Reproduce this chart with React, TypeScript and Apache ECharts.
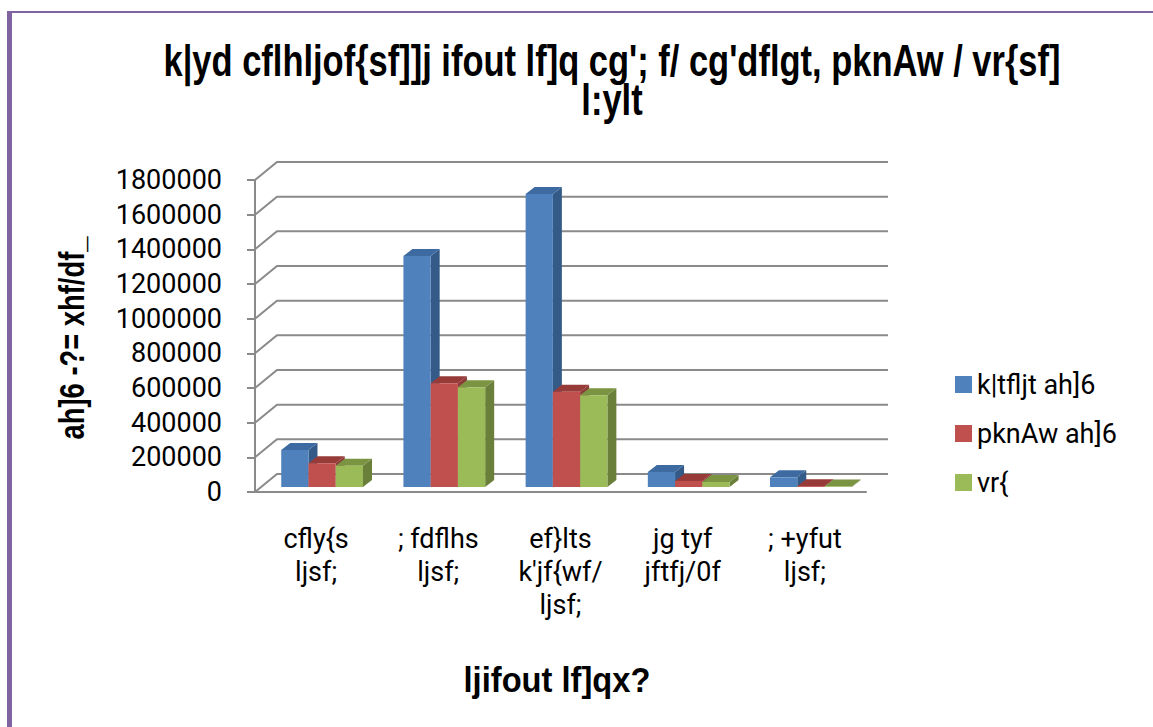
import React, { useEffect, useRef } from "react";
import * as echarts from "echarts";

const titleLines = ["k|yd cflhljof{sf]]j ifout lf]q cg'; f/ cg'dflgt, pknAw / vr{sf]", "l:ylt"];
const categories = ["cfly{s\nljsf;", "; fdflhs\nljsf;", "ef}lts\nk'jf{wf/\nljsf;", "jg tyf\njftfj/0f", "; +yfut\nljsf;"];
const seriesNames = ["k|tfljt ah]6", "pknAw ah]6", "vr{"];
const proposed = [213000, 1333000, 1690000, 87000, 56000];
const available = [137000, 598000, 550000, 35000, 5000];
const spent = [123000, 575000, 529000, 29000, 3000];
const yTicks = [0, 200000, 400000, 600000, 800000, 1000000, 1200000, 1400000, 1600000, 1800000];
const yAxisTitle = "ah]6 -?= xhf/df_";
const xAxisTitle = "ljifout lf]qx?";

const FONT = "Roboto";
const BOLD_FAMILY = '"Liberation Sans", Arial, sans-serif';
const GRID_COLOR = "#8a8a8a";
const faceColors = [
  { front: "#4f81bd", side: "#345a88", top: "#3d6aa0" },
  { front: "#c0504d", side: "#8e3a38", top: "#973b39" },
  { front: "#9bbb59", side: "#6a7f3a", top: "#7a9442" },
];
const DX = 6, DY = -5; // bar plane offset from front
const DDX = 9, DDY = -7; // bar depth
const BX = 22, BY = -18; // back wall offset

function fitScale(text: string, font: string, target: number) {
  const c = document.createElement("canvas").getContext("2d");
  if (!c) return 1;
  c.font = font;
  const w = c.measureText(text).width;
  return w > 0 ? target / w : 1;
}

export default function App() {
  const ref = useRef<HTMLDivElement>(null);
  useEffect(() => {
    const chart = echarts.init(ref.current!, undefined, { renderer: "svg" });
    const seriesData = [proposed, available, spent];

    const barSeries = seriesData.map((vals, si) => ({
      type: "custom",
      name: seriesNames[si],
      itemStyle: { color: faceColors[si].front },
      z: 3,
      data: vals.map((v, i) => [i, v]),
      renderItem: (params: any, api: any) => {
        const c = api.coord([api.value(0), api.value(1)]);
        const base = api.coord([api.value(0), 0]);
        const band = api.size([1, 0])[0];
        const bw = band * 0.223;
        const x0 = c[0] + (si - 1.5) * bw + DX;
        const x1 = x0 + bw;
        const yt = c[1] + DY;
        const yb = base[1] + DY;
        const col = faceColors[si];
        return {
          type: "group",
          children: [
            {
              type: "polygon",
              shape: { points: [[x1, yt], [x1 + DDX, yt + DDY], [x1 + DDX, yb + DDY], [x1, yb]] },
              style: { fill: col.side },
            },
            {
              type: "polygon",
              shape: { points: [[x0, yt], [x1, yt], [x1 + DDX, yt + DDY], [x0 + DDX, yt + DDY]] },
              style: { fill: col.top },
            },
            {
              type: "rect",
              shape: { x: x0, y: yt, width: bw, height: yb - yt },
              style: { fill: col.front },
            },
          ],
        };
      },
    }));

    const wallSeries = {
      type: "custom",
      name: "wall",
      silent: true,
      z: 1,
      data: yTicks.map((v) => [0, v]),
      renderItem: (params: any, api: any) => {
        const cs = params.coordSys;
        const y = api.coord([0, api.value(1)])[1];
        const x = cs.x;
        return {
          type: "polyline",
          shape: {
            points: [
              [x, y],
              [x + BX, y + BY],
              [cs.x + cs.width + BX, y + BY],
            ],
          },
          style: { stroke: GRID_COLOR, lineWidth: 2, fill: "none" },
        };
      },
    };

    const titleFont = `bold 44px ${BOLD_FAMILY}`;
    const titleScale = fitScale(titleLines[0], titleFont, 897);
    const yTitleFont = `bold 36px ${BOLD_FAMILY}`;
    const yTitleScale = fitScale(yAxisTitle, yTitleFont, 203);
    const xTitleFont = `bold 36px ${BOLD_FAMILY}`;
    const xTitleScale = fitScale(xAxisTitle, xTitleFont, 187);

    chart.setOption({
      animation: false,
      backgroundColor: "#ffffff",
      legend: {
        orient: "vertical",
        left: 950,
        top: 366,
        itemGap: 22,
        itemWidth: 17,
        itemHeight: 17,
        icon: "rect",
        data: seriesNames,
        textStyle: { fontFamily: FONT, fontSize: 27, color: "#000" },
      },
      grid: { left: 255, right: 287, top: 180, bottom: 235 },
      xAxis: {
        type: "category",
        data: categories,
        boundaryGap: true,
        axisLine: { lineStyle: { color: GRID_COLOR, width: 2 } },
        axisTick: { length: 8, lineStyle: { color: GRID_COLOR, width: 2 } },
        axisLabel: {
          interval: 0,
          fontFamily: FONT,
          fontSize: 27,
          lineHeight: 33,
          color: "#000",
          margin: 30,
        },
      },
      yAxis: {
        type: "value",
        min: 0,
        max: 1800000,
        interval: 200000,
        axisLine: { show: true, lineStyle: { color: GRID_COLOR, width: 2 } },
        axisTick: { show: true, length: 8, lineStyle: { color: GRID_COLOR, width: 2 } },
        splitLine: { show: false },
        axisLabel: {
          fontFamily: FONT,
          fontSize: 27,
          color: "#000",
          margin: 33,
          formatter: (v: number) => String(v),
        },
      },
      graphic: [
        { type: "rect", shape: { x: 7, y: 11, width: 5, height: 716 }, style: { fill: "#8064a2" }, z: 10 },
        { type: "rect", shape: { x: 7, y: 11, width: 1146, height: 2 }, style: { fill: "#8064a2" }, z: 10 },
        {
          type: "text",
          x: 612,
          y: 82,
          scaleX: titleScale,
          style: { text: titleLines[0], font: titleFont, fill: "#000", align: "center", verticalAlign: "bottom" },
        },
        {
          type: "text",
          x: 612,
          y: 121,
          scaleX: titleScale,
          style: { text: titleLines[1], font: titleFont, fill: "#000", align: "center", verticalAlign: "bottom" },
        },
        {
          type: "text",
          x: 72,
          y: 338,
          rotation: Math.PI / 2,
          scaleX: yTitleScale,
          style: { text: yAxisTitle, font: yTitleFont, fill: "#000", align: "center", verticalAlign: "middle" },
        },
        {
          type: "text",
          x: 557,
          y: 679,
          scaleX: xTitleScale,
          style: { text: xAxisTitle, font: xTitleFont, fill: "#000", align: "center", verticalAlign: "middle" },
        },
      ],
      series: [wallSeries, ...barSeries],
    });
    return () => chart.dispose();
  }, []);
  return <div ref={ref} style={{ position: "absolute", left: 0, top: 0, width: 1153, height: 727 }} />;
}
